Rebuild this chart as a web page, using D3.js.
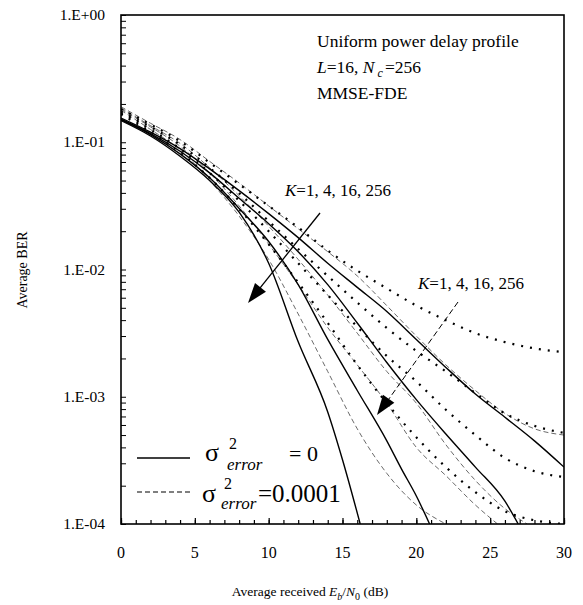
<!DOCTYPE html>
<html>
<head>
<meta charset="utf-8">
<script src="https://cdn.jsdelivr.net/npm/d3@7"></script>
<style>
  body { margin: 0; background: #fff; }
  svg text { font-family: 'Liberation Serif', 'Times New Roman', serif; fill: #000; }
</style>
</head>
<body>
<svg id="chart" width="583" height="605"></svg>
<script>
// Eb/N0 grid (dB)
const snr = [0, 2, 4, 6, 8, 10, 12, 14, 16, 18, 20, 22, 24, 26, 28, 30]

// solid: sigma_error^2 = 0, K = 1, 4, 16, 256
const solidK1 = [0.155, 0.120, 0.089, 0.0617, 0.0417, 0.0275, 0.0178, 0.0112, 0.00724, 0.00468, 0.00282, 0.0017, 0.00105, 0.00069, 0.00045, 0.00028]
const solidK4x = [0, 2, 4, 6, 8, 10, 12, 14, 16, 18, 20, 22, 24, 26, 26.9]
const solidK4 = [0.151, 0.117, 0.085, 0.0575, 0.0363, 0.0229, 0.0138, 0.0076, 0.0038, 0.00186, 0.00095, 0.00051, 0.00028, 0.000151, 0.0001]
const solidK16x = [0, 2, 4, 6, 8, 10, 12, 14, 16, 18, 19, 20, 20.9]
const solidK16 = [0.151, 0.115, 0.081, 0.0525, 0.0302, 0.0166, 0.0076, 0.00282, 0.00112, 0.00045, 0.00027, 0.000166, 0.0001]
const solidK256x = [0, 2, 4, 6, 8, 10, 12, 14, 15, 16.2]
const solidK256 = [0.148, 0.112, 0.0776, 0.050, 0.0282, 0.0112, 0.0027, 0.00076, 0.00032, 0.0001]

// thick dotted curves
const dotA = [0.182, 0.138, 0.102, 0.0692, 0.0468, 0.0316, 0.0214, 0.0141, 0.0098, 0.0071, 0.0052, 0.0040, 0.00316, 0.00269, 0.0024, 0.00224]
const dotB = [0.174, 0.132, 0.0955, 0.063, 0.0398, 0.024, 0.0145, 0.0089, 0.0055, 0.00347, 0.00229, 0.00158, 0.00107, 0.00074, 0.00059, 0.00052]
const dotC = [0.17, 0.126, 0.089, 0.0575, 0.0347, 0.02, 0.0112, 0.0063, 0.00355, 0.00209, 0.00132, 0.00079, 0.0005, 0.00033, 0.00026, 0.000234]
const dotD = [0.166, 0.12, 0.083, 0.0525, 0.030, 0.0158, 0.0079, 0.0038, 0.00178, 0.00089, 0.00048, 0.00028, 0.000178, 0.000126, 0.000107, 0.0001]

// thin dashed: sigma_error^2 = 0.0001
const dashA = [0.19, 0.141, 0.105, 0.0708, 0.0479, 0.0316, 0.0209, 0.0138, 0.0089, 0.0052, 0.0030, 0.00178, 0.00112, 0.00074, 0.00056, 0.0005]
const dashBx = [0, 2, 4, 6, 8, 10, 12, 14, 16, 18, 20, 22, 24, 26, 27.5]
const dashB = [0.186, 0.135, 0.098, 0.063, 0.038, 0.0219, 0.012, 0.0063, 0.00316, 0.00158, 0.00089, 0.00042, 0.00022, 0.000132, 0.0001]
const dashCx = [0, 2, 4, 6, 8, 10, 12, 14, 16, 18, 20, 22, 24, 25.5]
const dashC = [0.182, 0.132, 0.093, 0.0575, 0.0316, 0.0158, 0.0076, 0.0035, 0.00178, 0.00089, 0.0004, 0.00024, 0.000141, 0.0001]
const dashDx = [0, 2, 4, 6, 8, 10, 12, 14, 16, 18, 20, 22]
const dashD = [0.178, 0.126, 0.087, 0.050, 0.0263, 0.012, 0.00447, 0.00158, 0.00056, 0.00025, 0.000141, 0.0001]

const xTicks = [0, 5, 10, 15, 20, 25, 30]
const yTicks = [1, 0.1, 0.01, 0.001, 0.0001]
const yTickLabels = ['1.E+00', '1.E-01', '1.E-02', '1.E-03', '1.E-04']

const svg = d3.select('#chart')
const pLeft = 121; const pRight = 564; const pTop = 15; const pBottom = 524

const x = d3.scaleLinear().domain([0, 30]).range([pLeft, pRight])
const y = d3.scaleLog().domain([1e-4, 1]).range([pBottom, pTop])

svg.append('defs').append('clipPath').attr('id', 'plotclip')
  .append('rect').attr('x', pLeft).attr('y', pTop).attr('width', pRight - pLeft).attr('height', pBottom - pTop)

const zip = (xs, ys) => ys.map((v, i) => [xs[i], v])
const line = d3.line().x(d => x(d[0])).y(d => y(d[1])).curve(d3.curveMonotoneX)

const plot = svg.append('g').attr('clip-path', 'url(#plotclip)')

// thin dashed first (under everything)
const dashed = [zip(snr, dashA), zip(dashBx, dashB), zip(dashCx, dashC), zip(dashDx, dashD)]
plot.selectAll('.dash')
  .data(dashed)
  .enter()
  .append('path')
  .attr('d', d => line(d))
  .attr('fill', 'none')
  .attr('stroke', '#444')
  .attr('stroke-width', 0.8)
  .attr('stroke-dasharray', '5,3')

plot.selectAll('.dot')
  .data([dotA, dotB, dotC, dotD])
  .enter()
  .append('path')
  .attr('d', d => line(zip(snr, d)))
  .attr('fill', 'none')
  .attr('stroke', '#000')
  .attr('stroke-width', 2.2)
  .attr('stroke-dasharray', '2,7')

const solids = [zip(snr, solidK1), zip(solidK4x, solidK4), zip(solidK16x, solidK16), zip(solidK256x, solidK256)]
plot.selectAll('.solid')
  .data(solids)
  .enter()
  .append('path')
  .attr('d', d => line(d))
  .attr('fill', 'none')
  .attr('stroke', '#000')
  .attr('stroke-width', 1.4)

// axes: ticks point inward
svg.append('g').attr('transform', `translate(0,${pBottom})`)
  .call(d3.axisTop(x).ticks(30).tickSize(4).tickFormat(''))
  .call(g => g.select('.domain').remove())
  .call(g => g.selectAll('line').attr('stroke', '#000').attr('stroke-width', 1.2))
svg.append('g').attr('transform', `translate(0,${pBottom})`)
  .call(d3.axisTop(x).tickValues(xTicks).tickSize(6).tickFormat(''))
  .call(g => g.select('.domain').remove())
  .call(g => g.selectAll('line').attr('stroke', '#000').attr('stroke-width', 1.2))

svg.append('g').attr('transform', `translate(${pLeft},0)`)
  .call(d3.axisRight(y).tickSize(5).tickFormat(''))
  .call(g => g.select('.domain').remove())
  .call(g => g.selectAll('line').attr('stroke', '#000').attr('stroke-width', 1))

// frame
svg.append('rect')
  .attr('x', pLeft).attr('y', pTop).attr('width', pRight - pLeft).attr('height', pBottom - pTop)
  .attr('fill', 'none').attr('stroke', '#000').attr('stroke-width', 1.6)

// tick labels
svg.selectAll('.xl')
  .data(xTicks)
  .enter()
  .append('text')
  .attr('x', d => x(d))
  .attr('y', 558)
  .attr('text-anchor', 'middle')
  .style('font-size', '16px')
  .text(d => d)

svg.selectAll('.yl')
  .data(yTicks)
  .enter()
  .append('text')
  .attr('x', 105)
  .attr('y', d => y(d) + 5)
  .attr('text-anchor', 'end')
  .style('font-size', '15.5px')
  .text((d, i) => yTickLabels[i])

// axis titles
svg.append('text')
  .attr('transform', 'translate(27,270) rotate(-90)')
  .attr('text-anchor', 'middle')
  .style('font-size', '14px')
  .text('Average BER')

const xt = svg.append('text').attr('x', 310).attr('y', 596).attr('text-anchor', 'middle').style('font-size', '13.5px')
xt.append('tspan').text('Average received ')
xt.append('tspan').style('font-style', 'italic').text('E')
xt.append('tspan').attr('dy', 4).style('font-size', '10px').style('font-style', 'italic').text('b')
xt.append('tspan').attr('dy', -4).text('/')
xt.append('tspan').style('font-style', 'italic').text('N')
xt.append('tspan').attr('dy', 4).style('font-size', '10px').text('0')
xt.append('tspan').attr('dy', -4).text(' (dB)')

// condition box text
svg.append('text').attr('x', 317).attr('y', 47).style('font-size', '17.5px').text('Uniform power delay profile')
const t2 = svg.append('text').attr('x', 317).attr('y', 73).style('font-size', '17.5px')
t2.append('tspan').style('font-style', 'italic').text('L')
t2.append('tspan').text('=16, ')
t2.append('tspan').style('font-style', 'italic').text('N')
t2.append('tspan').attr('dy', 4).attr('dx', 3).style('font-size', '12px').style('font-style', 'italic').text('c')
t2.append('tspan').attr('dy', -4).attr('dx', 2).text('=256')
svg.append('text').attr('x', 317).attr('y', 99).style('font-size', '17.5px').text('MMSE-FDE')

// K annotations
function kLabel (px, py) {
  const t = svg.append('text').attr('x', px).attr('y', py).style('font-size', '17px')
  t.append('tspan').style('font-style', 'italic').text('K')
  t.append('tspan').text('=1, 4, 16, 256')
}
kLabel(285, 196)
kLabel(418, 289)

function arrowHead (x1, y1, x2, y2) {
  const a = Math.atan2(y2 - y1, x2 - x1)
  const len = 20; const w = 7
  const bx = x2 - len * Math.cos(a); const by = y2 - len * Math.sin(a)
  const pts = [[x2, y2], [bx + w * Math.sin(a), by - w * Math.cos(a)], [bx - w * Math.sin(a), by + w * Math.cos(a)]]
  svg.append('path').attr('d', 'M' + pts.join('L') + 'Z').attr('fill', '#000')
}

svg.append('line')
  .attr('x1', 320).attr('y1', 213).attr('x2', 252).attr('y2', 298)
  .attr('stroke', '#000').attr('stroke-width', 1.3)
svg.append('line')
  .attr('x1', 458).attr('y1', 302).attr('x2', 381).attr('y2', 410)
  .attr('stroke', '#000').attr('stroke-width', 1).attr('stroke-dasharray', '6,3')
arrowHead(320, 213, 248, 303)
arrowHead(458, 302, 377, 415)

// legend
svg.append('line').attr('x1', 137).attr('y1', 458).attr('x2', 190).attr('y2', 458)
  .attr('stroke', '#000').attr('stroke-width', 1.4)
svg.append('line').attr('x1', 137).attr('y1', 492).attr('x2', 190).attr('y2', 492)
  .attr('stroke', '#000').attr('stroke-width', 1.2).attr('stroke-dasharray', '5,3')

const l1 = svg.append('text').attr('y', 461).style('font-size', '26px')
l1.append('tspan').attr('x', 205).text('σ')
l1.append('tspan').attr('x', 229).attr('y', 449).style('font-size', '16px').text('2')
l1.append('tspan').attr('x', 227).attr('y', 470).style('font-size', '17px').style('font-style', 'italic').text('error')
l1.append('tspan').attr('x', 289).attr('y', 461).style('font-size', '22px').text('=  0')

const l2 = svg.append('text').attr('y', 502).style('font-size', '26px')
l2.append('tspan').attr('x', 202).text('σ')
l2.append('tspan').attr('x', 224).attr('y', 489).style('font-size', '16px').text('2')
l2.append('tspan').attr('x', 221).attr('y', 509).style('font-size', '17px').style('font-style', 'italic').text('error')
l2.append('tspan').attr('x', 258).attr('y', 502).style('font-size', '25px').text('=0.0001')
</script>
</body>
</html>
